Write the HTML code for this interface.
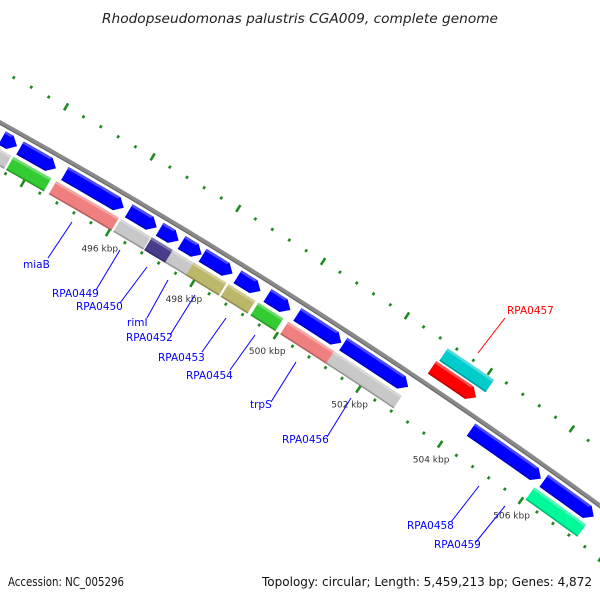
<!DOCTYPE html>
<html><head><meta charset="utf-8"><style>
html,body{margin:0;padding:0;background:#fff;}
svg{display:block;}
</style></head><body>
<svg id="s" width="600" height="600" xmlns="http://www.w3.org/2000/svg" font-family="'DejaVu Sans','Liberation Sans',sans-serif">
<text x="300" y="23" text-anchor="middle" font-size="13" font-style="italic" fill="#222" textLength="396" lengthAdjust="spacingAndGlyphs">Rhodopseudomonas palustris CGA009, complete genome</text>
<text x="8" y="586" font-size="12" fill="#111" textLength="116" lengthAdjust="spacingAndGlyphs">Accession: NC_005296</text>
<text x="592" y="586" text-anchor="end" font-size="12" fill="#111" textLength="330" lengthAdjust="spacingAndGlyphs">Topology: circular; Length: 5,459,213 bp; Genes: 4,872</text>
<g id="g"></g>
</svg>
<script>
var cx=-2840, cy=5230, R=5844;
var NS="http://www.w3.org/2000/svg", G=document.getElementById('g');
function yb(x){return cy-Math.sqrt(R*R-(x-cx)*(x-cx));}
function th(x){return Math.atan2(yb(x)-cy,x-cx);}
function P(t,r){return [cx+r*Math.cos(t),cy+r*Math.sin(t)];}
function el(n,a){var e=document.createElementNS(NS,n);for(var k in a)e.setAttribute(k,a[k]);G.appendChild(e);return e;}
function arcPts(t1,t2,r,n){var p=[];for(var i=0;i<=n;i++){p.push(P(t1+(t2-t1)*i/n,r));}return p;}
function poly(pts,fill){el('polygon',{points:pts.map(function(p){return p[0].toFixed(2)+','+p[1].toFixed(2)}).join(' '),fill:fill});}
(function(){var t1=th(-20),t2=th(620);var p=arcPts(t1,t2,R,60);
el('polyline',{points:p.map(function(q){return q.join(',')}).join(' '),fill:'none',stroke:'#8a8a8a','stroke-width':4.5});
el('polyline',{points:arcPts(t1,t2,R-1.6,60).map(function(q){return q.join(',')}).join(' '),fill:'none',stroke:'#666','stroke-width':1});})();
function shade(c,f){var n=parseInt(c.slice(1),16),r=n>>16,g=(n>>8)&255,b=n&255;
function m(v){return Math.max(0,Math.min(255,Math.round(f>0?v+(255-v)*f:v*(1+f))));}
return 'rgb('+m(r)+','+m(g)+','+m(b)+')';}
function feat(x1,x2,d,col,arrow){
 x1+=1.5;x2-=1.5;
 var t1=th(x1+0.53*d),t2=th(x2+0.53*d),r=R-d,h=7.5,ah=arrow?8:0;
 var ta=t2-ah/r;
 var outer=arcPts(t1,ta,r+h,8),inner=arcPts(ta,t1,r-h,8);
 var pts=outer.slice();
 if(arrow){pts.push(P(t2,r));}
 pts=pts.concat(inner);
 poly(pts,col);
 var o2=arcPts(t1,ta,r+h,8),i2=arcPts(ta-(arrow?2/r:0),t1,r+h-2.5,8);
 poly(o2.concat(i2),shade(col,0.3));
 var o3=arcPts(t1,ta,r-h+1.5,8),i3=arcPts(ta,t1,r-h,8);
 poly(o3.concat(i3),shade(col,-0.25));
}
var B='#0000ff';
[[0,18],[18,57],[63,125],[127,158],[158,180],[180,203],[201,234],[236,262],[266,292],[296,343],[342,410],[470,543],[543,596]].forEach(function(f){feat(f[0],f[1],12.5,B,true);});
[[-10,8,'#c8c8c8'],[7,48,'#33cc33'],[50,116,'#f08080'],[115,148,'#c8c8c8'],[146,171,'#483d8b'],[167,193,'#c8c8c8'],[188,224,'#bdb76b'],[223,253,'#bdb76b'],[253,281,'#33cc33'],[283,334,'#f08080'],[329,400,'#c8c8c8'],[530,585,'#00fa9a']].forEach(function(f){feat(f[0],f[1],31,f[2],false);});
feat(430,477,-17,'#ff0000',true);
feat(441,490,-34,'#00cccc',false);
var T0=th(107+0.53*42), step=(th(192+0.53*42)-T0);
for(var k=-40;k<=60;k++){
 var t=T0+step*k/5, lg=(k%5==0);
 [42,-46].forEach(function(d){
  var r=R-d, L=lg?8:3;
  var a=P(t,r+L/2),b=P(t,r-L/2);
  if(a[0]<-10||a[0]>610||a[1]<40||a[1]>570)return;
  el('line',{x1:a[0],y1:a[1],x2:b[0],y2:b[1],stroke:'#1f8a1f','stroke-width':2.6});
 });
 if(lg){var q=P(t,R-58);var kb=496+2*(k/5);
  if(q[0]>20&&q[0]<580&&q[1]>40&&q[1]<560){
  var tx=el('text',{x:q[0],y:q[1]+5,'text-anchor':'middle','font-size':9,fill:'#333'});tx.textContent=kb+' kbp';}}
}
var L=[['miaB',23,268,48,258,72,222,B],['RPA0449',52,297,96,290,120,250,B],['RPA0450',76,310,120,303,147,267,B],['rimI',127,326,147,318,168,280,B],['RPA0452',126,341,170,335,195,295,B],['RPA0453',158,361,202,352,226,318,B],['RPA0454',186,379,230,370,255,335,B],['trpS',250,408,271,402,296,362,B],['RPA0456',282,443,327,437,351,398,B],['RPA0457',507,314,478,353,505,318,'#ff0000'],['RPA0458',407,529,451,522,479,486,B],['RPA0459',434,548,476,542,505,506,B]];
L.forEach(function(l){
 el('line',{x1:l[3],y1:l[4],x2:l[5],y2:l[6],stroke:l[7],'stroke-width':1});
 var t=el('text',{x:l[1],y:l[2],'font-size':10.5,fill:l[7]});t.textContent=l[0];
});
</script>
</body></html>
